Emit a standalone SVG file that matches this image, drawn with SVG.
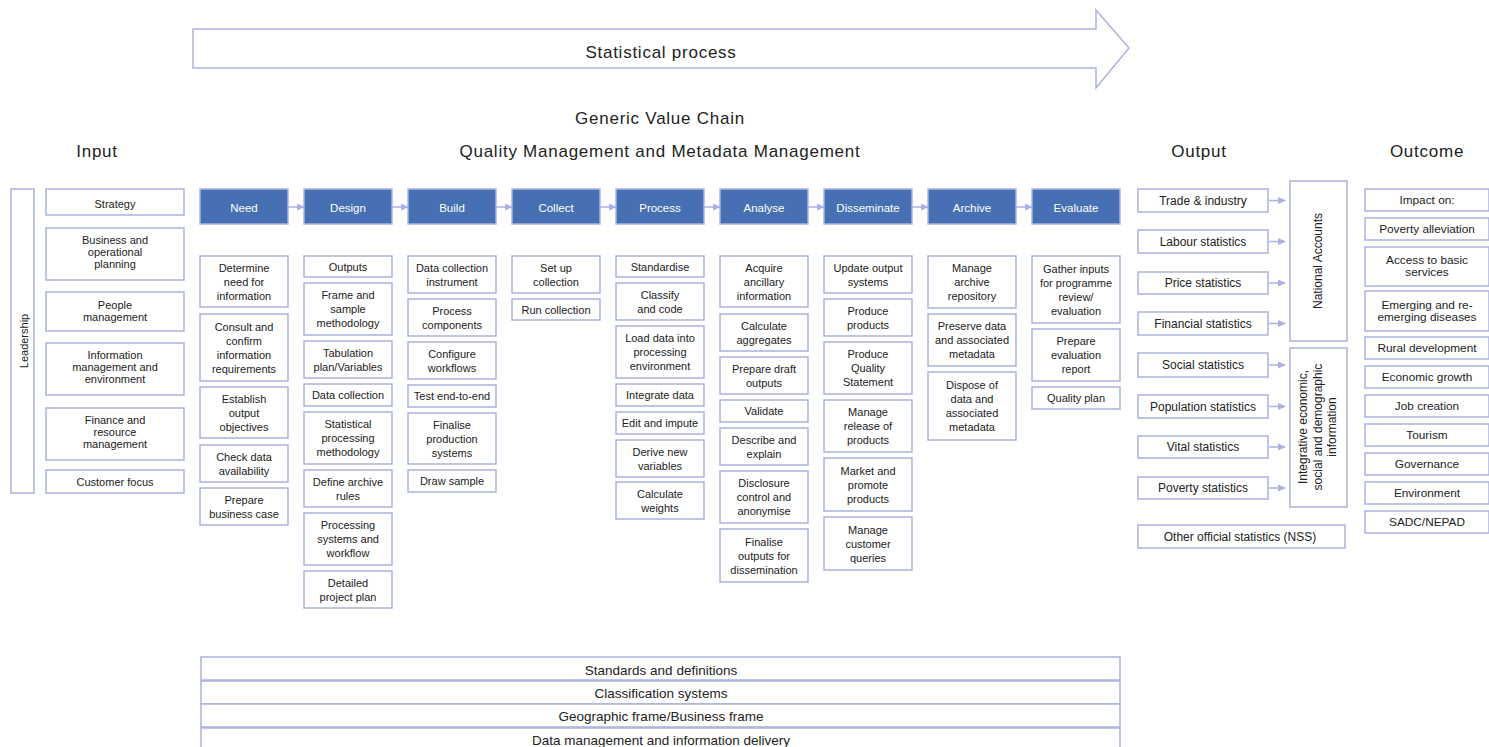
<svg xmlns="http://www.w3.org/2000/svg" width="1489" height="747" viewBox="0 0 1489 747">
<style>
.b{fill:#fff;stroke:#a9b2de;stroke-width:1.5}
.p{fill:#4670b3;stroke:#a9b2de;stroke-width:1.5}
text{font-family:"Liberation Sans",Arial,sans-serif;fill:#222;text-anchor:middle}
.t{font-size:11px}
.o{font-size:12px}
.oc{font-size:11.8px}
.f{font-size:13.5px}
.w{font-size:11.5px;fill:#fff}
.h{font-size:17px;letter-spacing:0.75px}
.c{stroke:#a9b2de;stroke-width:1.5;fill:none}
</style>
<defs>
<marker id="ah" markerWidth="8" markerHeight="8" refX="7" refY="4" orient="auto" markerUnits="userSpaceOnUse">
<path d="M0,0.5 L8,4 L0,7.5 z" fill="#a9b2de"/>
</marker>
</defs>
<rect width="1489" height="747" fill="#fff"/>

<g id="process-arrow">
<path d="M193,29 H1096 V10 L1129,48 L1096,88 V68 H193 Z" fill="#fff" stroke="#a9b2de" stroke-width="1.5"/>
<text x="661" y="58" style="font-size:17px;letter-spacing:0.75px">Statistical process</text>
</g>

<g id="headers">
<text class="h" x="660" y="124">Generic Value Chain</text>
<text class="h" x="97" y="157">Input</text>
<text class="h" x="660" y="157">Quality Management and Metadata Management</text>
<text class="h" x="1199" y="157">Output</text>
<text class="h" x="1427" y="157">Outcome</text>
</g>

<g id="leadership">
<rect class="b" x="11" y="189" width="23" height="304"/>
<text class="t" transform="translate(28,341) rotate(-90)">Leadership</text>
</g>

<g id="input">
<g id="in-strategy"><rect class="b" x="46" y="189" width="138" height="26"/><text class="t" x="115" y="208">Strategy</text></g>
<g id="in-business"><rect class="b" x="46" y="228" width="138" height="52"/><text class="t" x="115" y="244">Business and<tspan x="115" dy="12">operational</tspan><tspan x="115" dy="12">planning</tspan></text></g>
<g id="in-people"><rect class="b" x="46" y="292" width="138" height="39"/><text class="t" x="115" y="309">People<tspan x="115" dy="12">management</tspan></text></g>
<g id="in-info"><rect class="b" x="46" y="343" width="138" height="52"/><text class="t" x="115" y="359">Information<tspan x="115" dy="12">management and</tspan><tspan x="115" dy="12">environment</tspan></text></g>
<g id="in-finance"><rect class="b" x="46" y="408" width="138" height="52"/><text class="t" x="115" y="424">Finance and<tspan x="115" dy="12">resource</tspan><tspan x="115" dy="12">management</tspan></text></g>
<g id="in-customer"><rect class="b" x="46" y="470" width="138" height="23"/><text class="t" x="115" y="486">Customer focus</text></g>
</g>

<g id="phases">
<g id="ph-need"><rect class="p" x="200" y="189" width="88" height="35"/><text class="w" x="244" y="211.5">Need</text></g>
<g id="ph-design"><rect class="p" x="304" y="189" width="88" height="35"/><text class="w" x="348" y="211.5">Design</text></g>
<g id="ph-build"><rect class="p" x="408" y="189" width="88" height="35"/><text class="w" x="452" y="211.5">Build</text></g>
<g id="ph-collect"><rect class="p" x="512" y="189" width="88" height="35"/><text class="w" x="556" y="211.5">Collect</text></g>
<g id="ph-process"><rect class="p" x="616" y="189" width="88" height="35"/><text class="w" x="660" y="211.5">Process</text></g>
<g id="ph-analyse"><rect class="p" x="720" y="189" width="88" height="35"/><text class="w" x="764" y="211.5">Analyse</text></g>
<g id="ph-disseminate"><rect class="p" x="824" y="189" width="88" height="35"/><text class="w" x="868" y="211.5">Disseminate</text></g>
<g id="ph-archive"><rect class="p" x="928" y="189" width="88" height="35"/><text class="w" x="972" y="211.5">Archive</text></g>
<g id="ph-evaluate"><rect class="p" x="1032" y="189" width="88" height="35"/><text class="w" x="1076" y="211.5">Evaluate</text></g>
</g>

<g id="need">
<g><rect class="b" x="200" y="256" width="88" height="51"/><text class="t" x="244" y="271.5">Determine<tspan x="244" dy="14">need for</tspan><tspan x="244" dy="14">information</tspan></text></g>
<g><rect class="b" x="200" y="314" width="88" height="67"/><text class="t" x="244" y="330.5">Consult and<tspan x="244" dy="14">confirm</tspan><tspan x="244" dy="14">information</tspan><tspan x="244" dy="14">requirements</tspan></text></g>
<g><rect class="b" x="200" y="387" width="88" height="51"/><text class="t" x="244" y="402.5">Establish<tspan x="244" dy="14">output</tspan><tspan x="244" dy="14">objectives</tspan></text></g>
<g><rect class="b" x="200" y="445" width="88" height="37"/><text class="t" x="244" y="460.5">Check data<tspan x="244" dy="14">availability</tspan></text></g>
<g><rect class="b" x="200" y="488" width="88" height="37"/><text class="t" x="244" y="503.5">Prepare<tspan x="244" dy="14">business case</tspan></text></g>
</g>

<g id="design">
<g><rect class="b" x="304" y="256" width="88" height="21"/><text class="t" x="348" y="270.5">Outputs</text></g>
<g><rect class="b" x="304" y="283" width="88" height="52"/><text class="t" x="348" y="299">Frame and<tspan x="348" dy="14">sample</tspan><tspan x="348" dy="14">methodology</tspan></text></g>
<g><rect class="b" x="304" y="341" width="88" height="37"/><text class="t" x="348" y="356.5">Tabulation<tspan x="348" dy="14">plan/Variables</tspan></text></g>
<g><rect class="b" x="304" y="384" width="88" height="22"/><text class="t" x="348" y="399">Data collection</text></g>
<g><rect class="b" x="304" y="412" width="88" height="52"/><text class="t" x="348" y="428">Statistical<tspan x="348" dy="14">processing</tspan><tspan x="348" dy="14">methodology</tspan></text></g>
<g><rect class="b" x="304" y="470" width="88" height="37"/><text class="t" x="348" y="485.5">Define archive<tspan x="348" dy="14">rules</tspan></text></g>
<g><rect class="b" x="304" y="513" width="88" height="52"/><text class="t" x="348" y="529">Processing<tspan x="348" dy="14">systems and</tspan><tspan x="348" dy="14">workflow</tspan></text></g>
<g><rect class="b" x="304" y="571" width="88" height="37"/><text class="t" x="348" y="586.5">Detailed<tspan x="348" dy="14">project plan</tspan></text></g>
</g>

<g id="build">
<g><rect class="b" x="408" y="256" width="88" height="37"/><text class="t" x="452" y="271.5">Data collection<tspan x="452" dy="14">instrument</tspan></text></g>
<g><rect class="b" x="408" y="299" width="88" height="37"/><text class="t" x="452" y="314.5">Process<tspan x="452" dy="14">components</tspan></text></g>
<g><rect class="b" x="408" y="342" width="88" height="37"/><text class="t" x="452" y="357.5">Configure<tspan x="452" dy="14">workflows</tspan></text></g>
<g><rect class="b" x="408" y="385" width="88" height="22"/><text class="t" x="452" y="400">Test end-to-end</text></g>
<g><rect class="b" x="408" y="413" width="88" height="51"/><text class="t" x="452" y="428.5">Finalise<tspan x="452" dy="14">production</tspan><tspan x="452" dy="14">systems</tspan></text></g>
<g><rect class="b" x="408" y="470" width="88" height="22"/><text class="t" x="452" y="485">Draw sample</text></g>
</g>

<g id="collect">
<g><rect class="b" x="512" y="256" width="88" height="37"/><text class="t" x="556" y="271.5">Set up<tspan x="556" dy="14">collection</tspan></text></g>
<g><rect class="b" x="512" y="299" width="88" height="21"/><text class="t" x="556" y="313.5">Run collection</text></g>
</g>

<g id="process">
<g><rect class="b" x="616" y="256" width="88" height="21"/><text class="t" x="660" y="270.5">Standardise</text></g>
<g><rect class="b" x="616" y="283" width="88" height="37"/><text class="t" x="660" y="298.5">Classify<tspan x="660" dy="14">and code</tspan></text></g>
<g><rect class="b" x="616" y="326" width="88" height="52"/><text class="t" x="660" y="342">Load data into<tspan x="660" dy="14">processing</tspan><tspan x="660" dy="14">environment</tspan></text></g>
<g><rect class="b" x="616" y="384" width="88" height="22"/><text class="t" x="660" y="399">Integrate data</text></g>
<g><rect class="b" x="616" y="412" width="88" height="22"/><text class="t" x="660" y="427">Edit and impute</text></g>
<g><rect class="b" x="616" y="440" width="88" height="37"/><text class="t" x="660" y="455.5">Derive new<tspan x="660" dy="14">variables</tspan></text></g>
<g><rect class="b" x="616" y="482" width="88" height="37"/><text class="t" x="660" y="497.5">Calculate<tspan x="660" dy="14">weights</tspan></text></g>
</g>

<g id="analyse">
<g><rect class="b" x="720" y="256" width="88" height="51"/><text class="t" x="764" y="271.5">Acquire<tspan x="764" dy="14">ancillary</tspan><tspan x="764" dy="14">information</tspan></text></g>
<g><rect class="b" x="720" y="314" width="88" height="37"/><text class="t" x="764" y="329.5">Calculate<tspan x="764" dy="14">aggregates</tspan></text></g>
<g><rect class="b" x="720" y="357" width="88" height="37"/><text class="t" x="764" y="372.5">Prepare draft<tspan x="764" dy="14">outputs</tspan></text></g>
<g><rect class="b" x="720" y="400" width="88" height="22"/><text class="t" x="764" y="415">Validate</text></g>
<g><rect class="b" x="720" y="428" width="88" height="37"/><text class="t" x="764" y="443.5">Describe and<tspan x="764" dy="14">explain</tspan></text></g>
<g><rect class="b" x="720" y="471" width="88" height="52"/><text class="t" x="764" y="487">Disclosure<tspan x="764" dy="14">control and</tspan><tspan x="764" dy="14">anonymise</tspan></text></g>
<g><rect class="b" x="720" y="529" width="88" height="53"/><text class="t" x="764" y="545.5">Finalise<tspan x="764" dy="14">outputs for</tspan><tspan x="764" dy="14">dissemination</tspan></text></g>
</g>

<g id="disseminate">
<g><rect class="b" x="824" y="256" width="88" height="37"/><text class="t" x="868" y="271.5">Update output<tspan x="868" dy="14">systems</tspan></text></g>
<g><rect class="b" x="824" y="299" width="88" height="37"/><text class="t" x="868" y="314.5">Produce<tspan x="868" dy="14">products</tspan></text></g>
<g><rect class="b" x="824" y="342" width="88" height="52"/><text class="t" x="868" y="358">Produce<tspan x="868" dy="14">Quality</tspan><tspan x="868" dy="14">Statement</tspan></text></g>
<g><rect class="b" x="824" y="400" width="88" height="52"/><text class="t" x="868" y="416">Manage<tspan x="868" dy="14">release of</tspan><tspan x="868" dy="14">products</tspan></text></g>
<g><rect class="b" x="824" y="458" width="88" height="53"/><text class="t" x="868" y="474.5">Market and<tspan x="868" dy="14">promote</tspan><tspan x="868" dy="14">products</tspan></text></g>
<g><rect class="b" x="824" y="517" width="88" height="53"/><text class="t" x="868" y="533.5">Manage<tspan x="868" dy="14">customer</tspan><tspan x="868" dy="14">queries</tspan></text></g>
</g>

<g id="archive">
<g><rect class="b" x="928" y="256" width="88" height="52"/><text class="t" x="972" y="272">Manage<tspan x="972" dy="14">archive</tspan><tspan x="972" dy="14">repository</tspan></text></g>
<g><rect class="b" x="928" y="314" width="88" height="52"/><text class="t" x="972" y="330">Preserve data<tspan x="972" dy="14">and associated</tspan><tspan x="972" dy="14">metadata</tspan></text></g>
<g><rect class="b" x="928" y="372" width="88" height="68"/><text class="t" x="972" y="389">Dispose of<tspan x="972" dy="14">data and</tspan><tspan x="972" dy="14">associated</tspan><tspan x="972" dy="14">metadata</tspan></text></g>
</g>

<g id="evaluate">
<g><rect class="b" x="1032" y="256" width="88" height="67"/><text class="t" x="1076" y="272.5">Gather inputs<tspan x="1076" dy="14">for programme</tspan><tspan x="1076" dy="14">review/</tspan><tspan x="1076" dy="14">evaluation</tspan></text></g>
<g><rect class="b" x="1032" y="329" width="88" height="52"/><text class="t" x="1076" y="345">Prepare<tspan x="1076" dy="14">evaluation</tspan><tspan x="1076" dy="14">report</tspan></text></g>
<g><rect class="b" x="1032" y="387" width="88" height="22"/><text class="t" x="1076" y="402">Quality plan</text></g>
</g>

<g id="output">
<g><rect class="b" x="1138" y="189" width="130" height="23"/><text class="o" x="1203" y="204.5">Trade &amp; industry</text></g>
<g><rect class="b" x="1138" y="230" width="130" height="23"/><text class="o" x="1203" y="245.5">Labour statistics</text></g>
<g><rect class="b" x="1138" y="272" width="130" height="22"/><text class="o" x="1203" y="287">Price statistics</text></g>
<g><rect class="b" x="1138" y="312" width="130" height="23"/><text class="o" x="1203" y="327.5">Financial statistics</text></g>
<g><rect class="b" x="1138" y="353" width="130" height="24"/><text class="o" x="1203" y="369">Social statistics</text></g>
<g><rect class="b" x="1138" y="395" width="130" height="23"/><text class="o" x="1203" y="410.5">Population statistics</text></g>
<g><rect class="b" x="1138" y="436" width="130" height="22"/><text class="o" x="1203" y="451">Vital statistics</text></g>
<g><rect class="b" x="1138" y="477" width="130" height="22"/><text class="o" x="1203" y="492">Poverty statistics</text></g>
<g><rect class="b" x="1138" y="525" width="207" height="23"/><text class="o" x="1240" y="540.5">Other official statistics (NSS)</text></g>
<g id="national-accounts"><rect class="b" x="1290" y="181" width="57" height="160"/><text class="o" transform="translate(1322,261) rotate(-90)">National Accounts</text></g>
<g id="integrative"><rect class="b" x="1290" y="348" width="57" height="159"/><text class="o" transform="translate(1307,427) rotate(-90)">Integrative economic,<tspan x="0" dy="14.5">social and demographic</tspan><tspan x="0" dy="14.5">information</tspan></text></g>
</g>

<g id="outcome">
<g><rect class="b" x="1365" y="189" width="124" height="22"/><text class="oc" x="1427" y="204">Impact on:</text></g>
<g><rect class="b" x="1365" y="218" width="124" height="22"/><text class="oc" x="1427" y="233">Poverty alleviation</text></g>
<g><rect class="b" x="1365" y="247" width="124" height="39"/><text class="oc" x="1427" y="264">Access to basic<tspan x="1427" dy="12">services</tspan></text></g>
<g><rect class="b" x="1365" y="291" width="124" height="40"/><text class="oc" x="1427" y="308.5">Emerging and re-<tspan x="1427" dy="12">emerging diseases</tspan></text></g>
<g><rect class="b" x="1365" y="337" width="124" height="22"/><text class="oc" x="1427" y="352">Rural development</text></g>
<g><rect class="b" x="1365" y="366" width="124" height="22"/><text class="oc" x="1427" y="381">Economic growth</text></g>
<g><rect class="b" x="1365" y="395" width="124" height="22"/><text class="oc" x="1427" y="410">Job creation</text></g>
<g><rect class="b" x="1365" y="424" width="124" height="22"/><text class="oc" x="1427" y="439">Tourism</text></g>
<g><rect class="b" x="1365" y="453" width="124" height="22"/><text class="oc" x="1427" y="468">Governance</text></g>
<g><rect class="b" x="1365" y="482" width="124" height="22"/><text class="oc" x="1427" y="497">Environment</text></g>
<g><rect class="b" x="1365" y="511" width="124" height="22"/><text class="oc" x="1427" y="526">SADC/NEPAD</text></g>
</g>

<g id="foundations">
<g><rect class="b" x="201" y="657" width="919" height="23"/><text class="f" x="661" y="674.5">Standards and definitions</text></g>
<g><rect class="b" x="201" y="681" width="919" height="23"/><text class="f" x="661" y="698">Classification systems</text></g>
<g><rect class="b" x="201" y="704" width="919" height="23"/><text class="f" x="661" y="721">Geographic frame/Business frame</text></g>
<g><rect class="b" x="201" y="728" width="919" height="25"/><text class="f" x="661" y="745">Data management and information delivery</text></g>
</g>

<g id="connectors">
<line class="c" x1="288" y1="207" x2="304" y2="207" marker-end="url(#ah)"/>
<line class="c" x1="392" y1="207" x2="408" y2="207" marker-end="url(#ah)"/>
<line class="c" x1="496" y1="207" x2="512" y2="207" marker-end="url(#ah)"/>
<line class="c" x1="600" y1="207" x2="616" y2="207" marker-end="url(#ah)"/>
<line class="c" x1="704" y1="207" x2="720" y2="207" marker-end="url(#ah)"/>
<line class="c" x1="808" y1="207" x2="824" y2="207" marker-end="url(#ah)"/>
<line class="c" x1="912" y1="207" x2="928" y2="207" marker-end="url(#ah)"/>
<line class="c" x1="1016" y1="207" x2="1032" y2="207" marker-end="url(#ah)"/>
<line class="c" x1="1269" y1="200.5" x2="1285" y2="200.5" marker-end="url(#ah)"/>
<line class="c" x1="1269" y1="241.5" x2="1285" y2="241.5" marker-end="url(#ah)"/>
<line class="c" x1="1269" y1="283" x2="1285" y2="283" marker-end="url(#ah)"/>
<line class="c" x1="1269" y1="323.5" x2="1285" y2="323.5" marker-end="url(#ah)"/>
<line class="c" x1="1269" y1="365" x2="1285" y2="365" marker-end="url(#ah)"/>
<line class="c" x1="1269" y1="406.5" x2="1285" y2="406.5" marker-end="url(#ah)"/>
<line class="c" x1="1269" y1="447" x2="1285" y2="447" marker-end="url(#ah)"/>
<line class="c" x1="1269" y1="488" x2="1285" y2="488" marker-end="url(#ah)"/>
</g>
</svg>
